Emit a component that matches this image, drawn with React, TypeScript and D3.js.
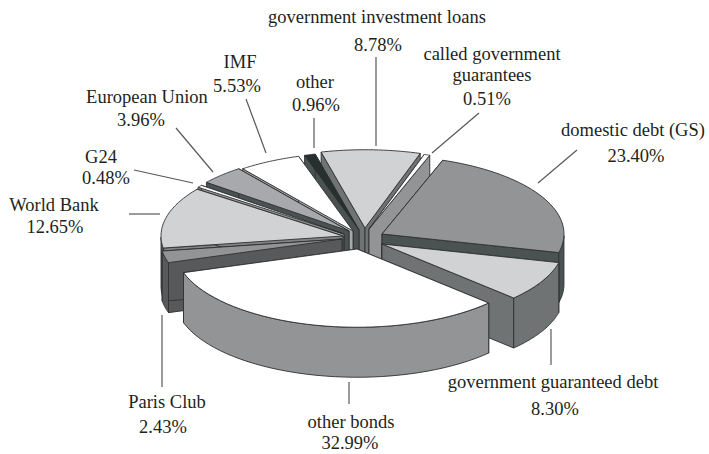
import React from "react";
import * as d3 from "d3";

const categories = ["domestic debt (GS)", "government guaranteed debt", "other bonds", "Paris Club", "World Bank", "G24", "European Union", "IMF", "other", "government investment loans", "called government guarantees"];
const shares = [23.40, 8.30, 32.99, 2.43, 12.65, 0.48, 3.96, 5.53, 0.96, 8.78, 0.51];

const offsetX = [24, 24, -1, -16, -15, -14, -9, -5, 1, 7, 11];
const offsetY = [-5, 5, 10, 0, -3, -5, -8, -8, -9, -11, -10];
const topFill = ["#939495", "#d1d2d3", "#ffffff", "#939495", "#d1d2d3", "#ffffff", "#a7a9ac", "#ffffff", "#26302f", "#d1d2d3", "#ffffff"];
const wallFill = ["#4a5352", "#707373", "#939495", "#58595b", "#808285", "#939495", "#4a5352", "#a7a9ac", "#4a5352", "#707373", "#939495"];
const outerFill = ["#4a5352", "#707373", "#939495", "#58595b", "#58595b", "#939495", "#4a5352", "#a7a9ac", "#4a5352", "#707373", "#939495"];

const labelLines: [string, number, number][] = [
  ["government investment loans", 377, 23], ["8.78%", 378, 51],
  ["called government", 492, 60], ["guarantees", 492, 81], ["0.51%", 487, 105],
  ["domestic debt (GS)", 633, 136], ["23.40%", 636, 162],
  ["government guaranteed debt", 553, 388], ["8.30%", 555, 415],
  ["other bonds", 351, 428], ["32.99%", 350, 449],
  ["Paris Club", 167, 408], ["2.43%", 163, 433],
  ["World Bank", 54, 211], ["12.65%", 55, 233],
  ["G24", 101, 163], ["0.48%", 106, 184],
  ["European Union", 147, 103], ["3.96%", 141, 126],
  ["IMF", 240, 68], ["5.53%", 237, 92],
  ["other", 315, 88], ["0.96%", 316, 111],
];
const leaders: [number, number, number, number][] = [
  [376, 57, 376, 146], [479, 113, 432, 153], [577, 150, 538, 183], [551, 329, 551, 365],
  [349, 382, 349, 404], [162, 315, 162, 387], [129, 214, 160, 214], [134, 170, 193, 183],
  [176, 128, 213, 172], [246, 99, 266, 153], [314, 118, 314, 148],
];

const CX = 358, CY = 239, RX = 182, K = 0.43, DEPTH = 50;
const START = (19.5 * Math.PI) / 180;

const pie = d3.pie<number>().sort(null).startAngle(START).endAngle(START + 2 * Math.PI);
const arcs = pie(shares);
const xScale = d3.scaleLinear().domain([-1, 1]).range([-RX, RX]);
const yScale = d3.scaleLinear().domain([-1, 1]).range([-RX * K, RX * K]);

const pathOf = d3.path;

function slicePaths(a: d3.PieArcDatum<number>, i: number) {
  const mid = (a.startAngle + a.endAngle) / 2;
  const ox = CX + offsetX[i];
  const oy = CY + offsetY[i];
  const pt = (t: number, dy = 0): [number, number] => [ox + xScale(Math.sin(t)), oy - yScale(Math.cos(t)) + dy];
  const steps = d3.range(0, 41).map((j) => a.startAngle + ((a.endAngle - a.startAngle) * j) / 40);

  const top = pathOf();
  top.moveTo(ox, oy);
  steps.forEach((t) => { const p = pt(t); top.lineTo(p[0], p[1]); });
  top.closePath();

  const radial = (t: number) => {
    const p = pathOf();
    const r = pt(t);
    p.moveTo(ox, oy); p.lineTo(r[0], r[1]); p.lineTo(r[0], r[1] + DEPTH); p.lineTo(ox, oy + DEPTH); p.closePath();
    return p.toString();
  };

  // the outer wall only shows where the rim faces the viewer
  const front = steps.filter((t) => Math.cos(t) <= 0);
  let outer = "";
  if (front.length > 1) {
    const p = pathOf();
    front.forEach((t, j) => { const q = pt(t); if (j === 0) p.moveTo(q[0], q[1]); else p.lineTo(q[0], q[1]); });
    front.slice().reverse().forEach((t) => { const q = pt(t, DEPTH); p.lineTo(q[0], q[1]); });
    p.closePath();
    outer = p.toString();
  }
  return { top: top.toString(), walls: [radial(a.startAngle), radial(a.endAngle)], outer, depthKey: -Math.cos(mid) };
}

const slices = arcs
  .map((a, i) => ({ i, ...slicePaths(a, i) }))
  .sort((p, q) => p.depthKey - q.depthKey);

export default function App() {
  const stroke = "#2f3031";
  return (
    <svg width={709} height={454} style={{ position: "absolute", left: 0, top: 0, background: "#fff" }}>
      {slices.map((s) => (
        <g key={categories[s.i]} stroke={stroke} strokeWidth={0.9} strokeLinejoin="round">
          {s.walls.map((d, j) => <path key={j} d={d} fill={wallFill[s.i]} />)}
          {s.outer && <path d={s.outer} fill={outerFill[s.i]} />}
          <path d={s.top} fill={topFill[s.i]} />
        </g>
      ))}
      {leaders.map((l, i) => (
        <line key={i} x1={l[0]} y1={l[1]} x2={l[2]} y2={l[3]} stroke="#58595b" strokeWidth={1.2} />
      ))}
      <g fontFamily="'Liberation Serif', serif" fontSize={18.5} fill="#231f20" textAnchor="middle">
        {labelLines.map((t, i) => <text key={i} x={t[1]} y={t[2]}>{t[0]}</text>)}
      </g>
    </svg>
  );
}
